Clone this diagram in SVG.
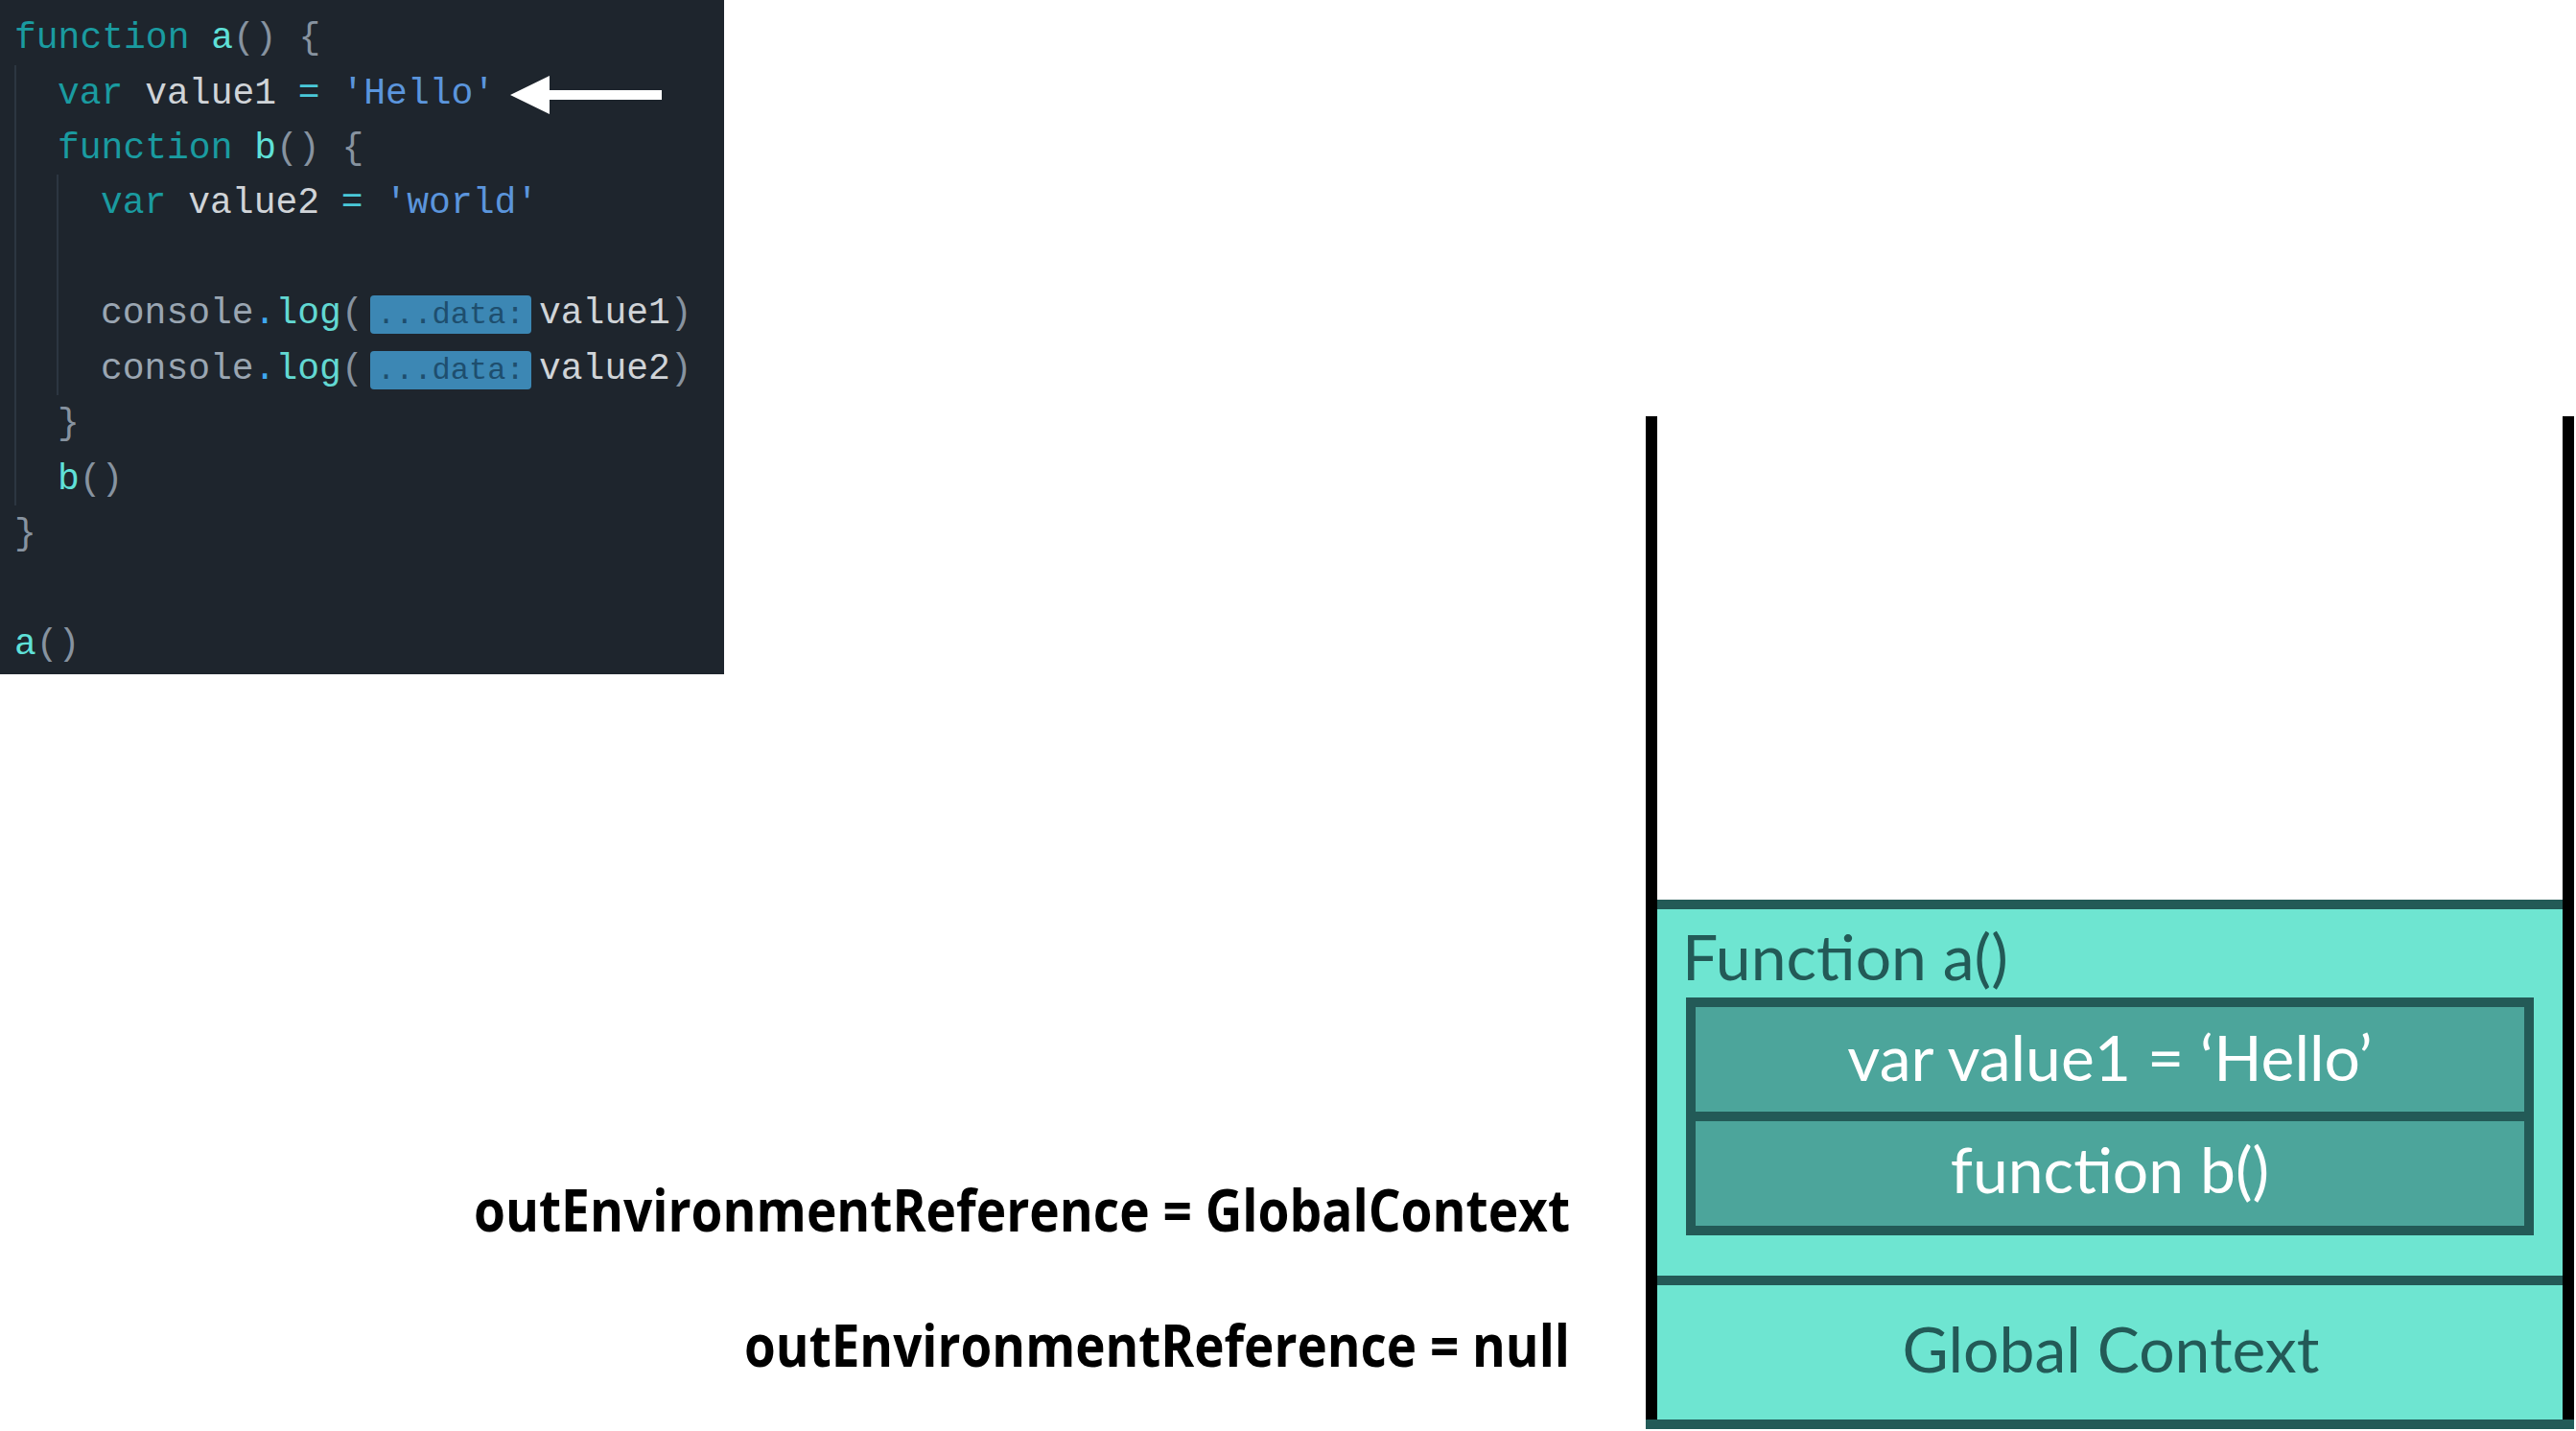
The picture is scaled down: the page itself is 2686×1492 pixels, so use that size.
<svg xmlns="http://www.w3.org/2000/svg" width="2686" height="1492" viewBox="0 0 2686 1492">
<style>
.code{font-family:"Liberation Mono","DejaVu Sans Mono",monospace;font-size:38px;}
.kw{fill:#1a9ba0}
.fn{fill:#5fe0d8}
.id{fill:#d0d4d8}
.op{fill:#4ac8d8}
.str{fill:#5b95dc}
.pn{fill:#8793a0}
.con{fill:#9aa6b2}
.dot{fill:#3fa8f0}
.log{fill:#62d8d2}
.bdg{fill:#3c87b4}
.bdgt{font-family:"Liberation Mono","DejaVu Sans Mono",monospace;font-size:32px;fill:#1e4e6e}
.guide{stroke:#2c3641;stroke-width:2}
.wall{fill:#000}
.teal{fill:#6ee5d1}
.dark{fill:#235a57}
.frame{font-family:Lato,"Noto Sans",sans-serif;font-size:66px;}
.lbl{font-family:"Open Sans","Liberation Sans",sans-serif;font-weight:700;font-size:60px;fill:#000}
</style>
<rect width="2686" height="1492" fill="#fff"/>
<g id="code">
<rect x="0" y="0" width="755" height="703" fill="#1e252d"/>
<line class="guide" x1="16" y1="68" x2="16" y2="527"/>
<line class="guide" x1="60" y1="182" x2="60" y2="412"/>
<text class="code" xml:space="preserve" x="15" y="50"><tspan class="kw">function</tspan><tspan class="fn"> a</tspan><tspan class="pn">() {</tspan></text>
<text class="code" xml:space="preserve" x="60" y="108"><tspan class="kw">var</tspan><tspan class="id"> value1 </tspan><tspan class="op">=</tspan><tspan class="str"> 'Hello'</tspan></text>
<text class="code" xml:space="preserve" x="60" y="165"><tspan class="kw">function</tspan><tspan class="fn"> b</tspan><tspan class="pn">() {</tspan></text>
<text class="code" xml:space="preserve" x="105" y="222"><tspan class="kw">var</tspan><tspan class="id"> value2 </tspan><tspan class="op">=</tspan><tspan class="str"> 'world'</tspan></text>
<text class="code" xml:space="preserve" x="105" y="337"><tspan class="con">console</tspan><tspan class="dot">.</tspan><tspan class="log">log</tspan><tspan class="pn">(</tspan></text>
<rect class="bdg" x="386" y="308" width="168" height="40" rx="4"/>
<text class="bdgt" x="393" y="337">...data:</text>
<text class="code" xml:space="preserve" x="562" y="337"><tspan class="id">value1</tspan><tspan class="pn">)</tspan></text>
<text class="code" xml:space="preserve" x="105" y="395"><tspan class="con">console</tspan><tspan class="dot">.</tspan><tspan class="log">log</tspan><tspan class="pn">(</tspan></text>
<rect class="bdg" x="386" y="366" width="168" height="40" rx="4"/>
<text class="bdgt" x="393" y="395">...data:</text>
<text class="code" xml:space="preserve" x="562" y="395"><tspan class="id">value2</tspan><tspan class="pn">)</tspan></text>
<text class="code pn" x="60" y="452">}</text>
<text class="code" xml:space="preserve" x="60" y="510"><tspan class="fn">b</tspan><tspan class="pn">()</tspan></text>
<text class="code pn" x="15" y="567">}</text>
<text class="code" xml:space="preserve" x="15" y="682"><tspan class="fn">a</tspan><tspan class="pn">()</tspan></text>
</g>
<g id="connectors">
<polygon points="532,99 573,79 573,94 690,94 690,104 573,104 573,119" fill="#fff"/>
</g>
<g id="stack">
<rect class="wall" x="1716" y="434" width="12" height="1054"/>
<rect class="wall" x="2672" y="434" width="12" height="1054"/>
</g>
<g id="function-a">
<rect class="teal" x="1728" y="938" width="944" height="397"/>
<rect class="dark" x="1728" y="938" width="944" height="10"/>
<text class="frame dark" x="1754" y="1022">Function a()</text>
</g>
<g id="inner-vars">
<rect x="1763" y="1045" width="874" height="238" fill="#4ca59b" stroke="#235a57" stroke-width="10"/>
<line x1="1763" y1="1164" x2="2637" y2="1164" stroke="#235a57" stroke-width="10"/>
<text class="frame" x="2200" y="1127" text-anchor="middle" fill="#fff">var value1 = ‘Hello’</text>
<text class="frame" x="2200" y="1244" text-anchor="middle" fill="#fff">function b()</text>
</g>
<g id="global-context">
<rect class="teal" x="1728" y="1335" width="944" height="150"/>
<rect class="dark" x="1728" y="1330" width="944" height="10"/>
<rect class="dark" x="1716" y="1480" width="968" height="10"/>
<text class="frame dark" x="2201" y="1431" text-anchor="middle">Global Context</text>
</g>
<g id="labels">
<text class="lbl" x="494" y="1284" textLength="1143" lengthAdjust="spacingAndGlyphs">outEnvironmentReference = GlobalContext</text>
<text class="lbl" x="776" y="1425" textLength="861" lengthAdjust="spacingAndGlyphs">outEnvironmentReference = null</text>
</g>
</svg>
